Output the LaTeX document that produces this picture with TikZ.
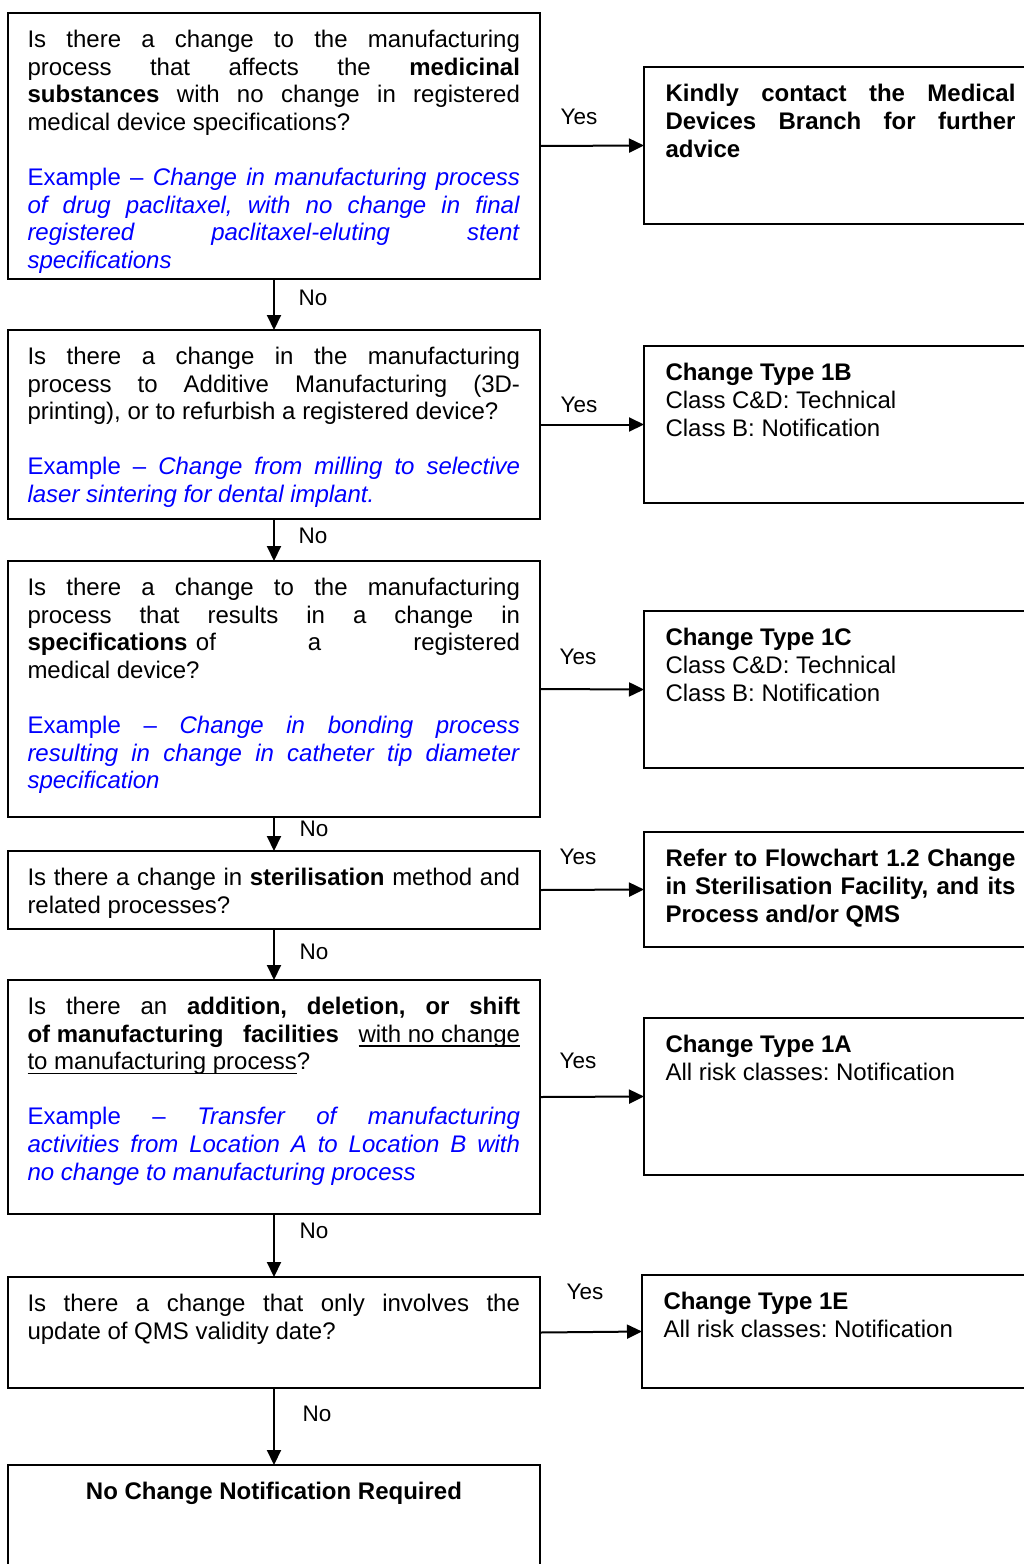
\documentclass[tikz,border=0pt]{standalone}
\usepackage{fontspec}
\setmainfont{Liberation Sans}
\usetikzlibrary{arrows.meta}
\newlength{\lboxw}\setlength{\lboxw}{492.5pt}
\newlength{\rboxw}\setlength{\rboxw}{350pt}
\newcommand{\jl}[1]{\makebox[\lboxw][s]{#1}}
\newcommand{\jr}[1]{\makebox[\rboxw][s]{#1}}
\newcommand{\myul}[1]{\leavevmode\setbox0=\hbox{#1}\rlap{\rule[-4.5pt]{\wd0}{1.3pt}}\box0}
\frenchspacing
\begin{document}
\frenchspacing
\begin{tikzpicture}[x=1pt,y=-1pt]
\tikzset{
 qbox/.style={draw, line width=1.8pt, inner sep=0pt, outer sep=0pt, anchor=north west, minimum width=532pt},
 rbox/.style={draw, line width=1.8pt, inner sep=0pt, outer sep=0pt, anchor=north west, minimum width=420pt},
 qtxt/.style={anchor=north west, inner sep=0pt, outer sep=0pt, align=left, font=\fontsize{24}{27.6}\selectfont\frenchspacing},
 rtxt/.style={anchor=north west, inner sep=0pt, outer sep=0pt, align=left, font=\fontsize{24}{28}\selectfont\frenchspacing},
 lbl/.style={anchor=base, inner sep=0pt, font=\fontsize{22.5}{26}\selectfont},
 arr/.style={line width=2pt, -{Triangle[length=15pt,width=14pt]}}
}
\useasboundingbox (0,0) rectangle (1024,1564);
\clip (0,0) rectangle (1024,1564);

% boxes
\node[qbox, minimum height=266pt] (q1) at (8,13) {};
\node[qbox, minimum height=189pt] (q2) at (8,330) {};
\node[qbox, minimum height=256pt] (q3) at (8,561) {};
\node[qbox, minimum height=78pt]  (q4) at (8,851) {};
\node[qbox, minimum height=234pt] (q5) at (8,980) {};
\node[qbox, minimum height=111pt] (q6) at (8,1277) {};
\node[qbox, minimum height=200pt] (qend) at (8,1465) {};

\node[rbox, minimum height=157pt] (r1) at (644,67) {};
\node[rbox, minimum height=157pt] (r2) at (644,346) {};
\node[rbox, minimum height=157pt] (r3) at (644,611) {};
\node[rbox, minimum height=115pt] (r4) at (644,832) {};
\node[rbox, minimum height=157pt] (r5) at (644,1018) {};
\node[rbox, minimum height=113pt] (r6) at (642,1275) {};

% question texts
\node[qtxt] (q1t) at (27.5,28.2) {\strut\jl{Is there a change to the manufacturing}\\
\jl{process that affects the \textbf{medicinal}}\\
\jl{\textbf{substances} with no change in registered}\\
medical device specifications?\\[27.6pt]
\textcolor{blue}{\jl{Example – \textit{Change in manufacturing process}}}\\
\textcolor{blue}{\jl{\textit{of drug paclitaxel, with no change in final}}}\\
\textcolor{blue}{\jl{\textit{registered paclitaxel-eluting stent}}}\\
\textcolor{blue}{\textit{specifications}}};

\node[qtxt] (q2t) at (27.5,345.2) {\strut\jl{Is there a change in the manufacturing}\\
\jl{process to Additive Manufacturing (3D-}\\
printing), or to refurbish a registered device?\\[27.6pt]
\textcolor{blue}{\jl{Example – \textit{Change from milling to selective}}}\\
\textcolor{blue}{\textit{laser sintering for dental implant.}}};

\node[qtxt] (q3t) at (27.5,576.2) {\strut\jl{Is there a change to the manufacturing}\\
\jl{process that results in a change in}\\
\jl{\textbf{specifications}\hspace{0.35em}of a registered}\\
medical device?\\[27.6pt]
\textcolor{blue}{\jl{Example – \textit{Change in bonding process}}}\\
\textcolor{blue}{\jl{\textit{resulting in change in catheter tip diameter}}}\\
\textcolor{blue}{\textit{specification}}};

\node[qtxt] (q4t) at (27.5,866.2) {\strut\jl{Is there a change in \textbf{sterilisation} method and}\\
related processes?};

\node[qtxt] (q5t) at (27.5,995.2) {\strut\jl{Is there an \textbf{addition, deletion, or shift}}\\
\jl{\textbf{of}\hspace{0.278em}\textbf{manufacturing facilities} \myul{with no change}}\\
\myul{to manufacturing process}?\\[27.6pt]
\textcolor{blue}{\jl{Example – \textit{Transfer of manufacturing}}}\\
\textcolor{blue}{\jl{\textit{activities from Location A to Location B with}}}\\
\textcolor{blue}{\textit{no change to manufacturing process}}};

\node[qtxt] (q6t) at (27.5,1292.2) {\strut\jl{Is there a change that only involves the}\\
update of QMS validity date?};

\node[qtxt, anchor=north, align=center] (qendt) at (274,1480.2) {\strut\textbf{No Change Notification Required}};

% result texts
\node[rtxt] (r1t) at (665.5,81.9) {\strut\textbf{\jr{Kindly contact the Medical}}\\
\textbf{\jr{Devices Branch for further}}\\
\textbf{advice}};
\node[rtxt] (r2t) at (665.5,360.9) {\strut\textbf{Change Type 1B}\\
Class C\&D: Technical\\
Class B: Notification};
\node[rtxt] (r3t) at (665.5,625.9) {\strut\textbf{Change Type 1C}\\
Class C\&D: Technical\\
Class B: Notification};
\node[rtxt] (r4t) at (665.5,846.9) {\strut\textbf{\jr{Refer to Flowchart 1.2 Change}}\\
\textbf{\jr{in Sterilisation Facility, and its}}\\
\textbf{Process and/or QMS}};
\node[rtxt] (r5t) at (665.5,1032.9) {\strut\textbf{Change Type 1A}\\
All risk classes: Notification};
\node[rtxt] (r6t) at (663.5,1289.9) {\strut\textbf{Change Type 1E}\\
All risk classes: Notification};

% connectors
\draw[arr] (q1.east) -- (r1.west);
\draw[arr] (q2.east) -- (r2.west);
\draw[arr] (q3.east) -- (r3.west);
\draw[arr] (q4.east) -- (r4.west);
\draw[arr] (q5.east) -- (r5.west);
\draw[arr] (q6.east) -- (r6.west);
\draw[arr] (q1.south) -- (q2.north);
\draw[arr] (q2.south) -- (q3.north);
\draw[arr] (q3.south) -- (q4.north);
\draw[arr] (q4.south) -- (q5.north);
\draw[arr] (q5.south) -- (q6.north);
\draw[arr] (q6.south) -- (qend.north);

% labels
\node[lbl] (y1) at (579,124) {Yes};
\node[lbl] (y2) at (579,412) {Yes};
\node[lbl] (y3) at (578,664) {Yes};
\node[lbl] (y4) at (578,864) {Yes};
\node[lbl] (y5) at (578,1068) {Yes};
\node[lbl] (y6) at (585,1299) {Yes};
\node[lbl] (n1) at (313,305) {No};
\node[lbl] (n2) at (313,543) {No};
\node[lbl] (n3) at (314,836) {No};
\node[lbl] (n4) at (314,959) {No};
\node[lbl] (n5) at (314,1238) {No};
\node[lbl] (n6) at (317,1421) {No};
\end{tikzpicture}
\end{document}
